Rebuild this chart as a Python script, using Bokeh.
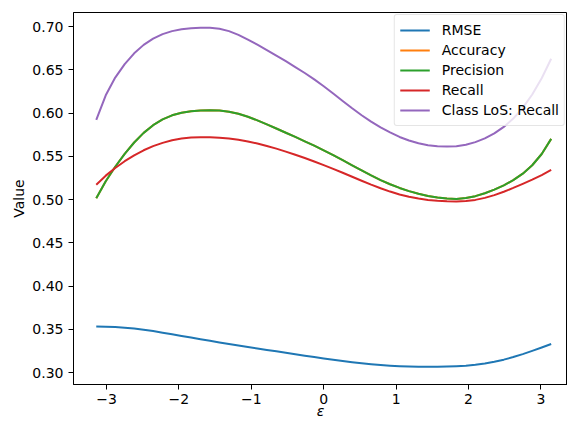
from bokeh.plotting import figure
from bokeh.models import Range1d, FixedTicker, Legend, LegendItem
from bokeh.embed import file_html
from bokeh.resources import INLINE

x = [-3.1416, -3.0107, -2.8798, -2.7489, -2.6180, -2.4871, -2.3562, -2.2253, -2.0944, -1.9635,
     -1.8326, -1.7017, -1.5708, -1.4399, -1.3090, -1.1781, -1.0472, -0.9163, -0.7854, -0.6545,
     -0.5236, -0.3927, -0.2618, -0.1309, 0.0, 0.1309, 0.2618, 0.3927, 0.5236, 0.6545,
     0.7854, 0.9163, 1.0472, 1.1781, 1.3090, 1.4399, 1.5708, 1.7017, 1.8326, 1.9635,
     2.0944, 2.2253, 2.3562, 2.4871, 2.6180, 2.7489, 2.8798, 3.0107, 3.1416]

rmse = [0.3535, 0.3532, 0.3527, 0.3520, 0.3510, 0.3497, 0.3481, 0.3463, 0.3444, 0.3425,
        0.3406, 0.3387, 0.3369, 0.3350, 0.3332, 0.3314, 0.3297, 0.3280, 0.3263, 0.3247,
        0.3230, 0.3213, 0.3197, 0.3181, 0.3165, 0.3150, 0.3136, 0.3122, 0.3110, 0.3099,
        0.3090, 0.3082, 0.3076, 0.3072, 0.3069, 0.3068, 0.3069, 0.3071, 0.3075, 0.3081,
        0.3091, 0.3106, 0.3126, 0.3151, 0.3181, 0.3215, 0.3252, 0.3291, 0.3332]

precision = [0.5015, 0.5213, 0.5380, 0.5529, 0.5660, 0.5771, 0.5860, 0.5927, 0.5974, 0.6004,
             0.6021, 0.6029, 0.6033, 0.6029, 0.6016, 0.5992, 0.5958, 0.5916, 0.5870, 0.5822,
             0.5773, 0.5724, 0.5674, 0.5623, 0.5570, 0.5514, 0.5456, 0.5397, 0.5338, 0.5280,
             0.5226, 0.5178, 0.5135, 0.5098, 0.5067, 0.5042, 0.5024, 0.5013, 0.5008, 0.5018,
             0.5040, 0.5073, 0.5115, 0.5165, 0.5225, 0.5300, 0.5397, 0.5527, 0.5702]

accuracy = [0.5015, 0.5213, 0.5380, 0.5529, 0.5660, 0.5771, 0.5860, 0.5927, 0.5974, 0.6004,
            0.6021, 0.6029, 0.6033, 0.6029, 0.6016, 0.5992, 0.5958, 0.5916, 0.5870, 0.5822,
            0.5773, 0.5724, 0.5674, 0.5623, 0.5570, 0.5514, 0.5456, 0.5397, 0.5338, 0.5280,
            0.5226, 0.5178, 0.5135, 0.5098, 0.5067, 0.5042, 0.5024, 0.5013, 0.5008, 0.5018,
            0.5040, 0.5073, 0.5115, 0.5165, 0.5225, 0.5300, 0.5397, 0.5527, 0.5702]

recall = [0.5173, 0.5277, 0.5366, 0.5444, 0.5512, 0.5570, 0.5618, 0.5656, 0.5685, 0.5705,
          0.5717, 0.5721, 0.5720, 0.5716, 0.5707, 0.5692, 0.5672, 0.5648, 0.5620, 0.5589,
          0.5555, 0.5519, 0.5481, 0.5441, 0.5399, 0.5355, 0.5310, 0.5264, 0.5218, 0.5173,
          0.5131, 0.5093, 0.5060, 0.5033, 0.5012, 0.4997, 0.4987, 0.4981, 0.4979, 0.4983,
          0.4997, 0.5020, 0.5052, 0.5091, 0.5135, 0.5182, 0.5231, 0.5284, 0.5343]

class_los_recall = [0.5921, 0.6205, 0.6410, 0.6565, 0.6690, 0.6788, 0.6860, 0.6912, 0.6947, 0.6969,
                    0.6981, 0.6986, 0.6987, 0.6975, 0.6947, 0.6903, 0.6849, 0.6790, 0.6728, 0.6664,
                    0.6599, 0.6532, 0.6463, 0.6389, 0.6310, 0.6226, 0.6140, 0.6055, 0.5975, 0.5901,
                    0.5835, 0.5776, 0.5724, 0.5683, 0.5651, 0.5629, 0.5617, 0.5613, 0.5617, 0.5634,
                    0.5664, 0.5707, 0.5765, 0.5840, 0.5936, 0.6060, 0.6215, 0.6402, 0.6627]

series_names = ["RMSE", "Accuracy", "Precision", "Recall", "Class LoS: Recall"]
series_values = [rmse, accuracy, precision, recall, class_los_recall]
colors = ["#1f77b4", "#ff7f0e", "#2ca02c", "#d62728", "#9467bd"]

x_ticks = [-3, -2, -1, 0, 1, 2, 3]
x_tick_labels = ["\u22123", "\u22122", "\u22121", "0", "1", "2", "3"]
y_ticks = [0.30, 0.35, 0.40, 0.45, 0.50, 0.55, 0.60, 0.65, 0.70]
y_tick_labels = ["0.30", "0.35", "0.40", "0.45", "0.50", "0.55", "0.60", "0.65", "0.70"]
x_label = "\u03b5"
y_label = "Value"

FONT = "DejaVu Sans"

p = figure(width=567, height=422, output_backend="svg", toolbar_location=None,
           x_range=Range1d(-3.456, 3.367), y_range=Range1d(0.2864, 0.7162))
p.min_border_left = 73
p.min_border_right = 0
p.min_border_top = 12
p.min_border_bottom = 38
p.background_fill_color = "white"
p.border_fill_color = "white"
p.outline_line_color = "black"
p.outline_line_width = 1
p.grid.visible = False

items = []
for name, vals, c in zip(series_names, series_values, colors):
    r = p.line(x, vals, line_color=c, line_width=2, line_join="round")
    items.append(LegendItem(label=name, renderers=[r]))

for ax in (p.xaxis[0], p.yaxis[0]):
    ax.axis_line_color = "black"
    ax.major_tick_line_color = "black"
    ax.major_tick_out = 5
    ax.major_tick_in = 0
    ax.minor_tick_line_color = None
    ax.major_label_text_font = FONT
    ax.major_label_text_font_size = "14px"
    ax.major_label_text_color = "black"
    ax.axis_label_text_font = FONT
    ax.axis_label_text_color = "black"
    ax.axis_label_text_font_size = "14px"
    ax.axis_label_text_font_style = "normal"

p.xaxis.ticker = FixedTicker(ticks=x_ticks)
p.xaxis.major_label_overrides = {t: l for t, l in zip(x_ticks, x_tick_labels)}
p.xaxis.major_label_standoff = 4
p.xaxis.axis_label = x_label
p.xaxis.axis_label_text_font_style = "italic"
p.xaxis.axis_label_standoff = -4

p.yaxis.ticker = FixedTicker(ticks=y_ticks)
p.yaxis.major_label_overrides = {t: l for t, l in zip(y_ticks, y_tick_labels)}
p.yaxis.major_label_standoff = 5
p.yaxis.axis_label = y_label
p.yaxis.axis_label_standoff = 2

legend = Legend(items=items, location="top_right")
legend.label_text_font = FONT
legend.label_text_font_size = "14px"
legend.label_text_color = "black"
legend.glyph_width = 30
legend.glyph_height = 20
legend.label_height = 20
legend.label_standoff = 12
legend.spacing = 0
legend.padding = 5
legend.margin = 2
legend.border_line_color = "#cccccc"
legend.border_line_width = 1
legend.background_fill_color = "white"
legend.background_fill_alpha = 0.8
try:
    legend.border_radius = 3
except Exception:
    pass
p.add_layout(legend, "center")

open("out.html", "w").write(file_html(p, INLINE))
